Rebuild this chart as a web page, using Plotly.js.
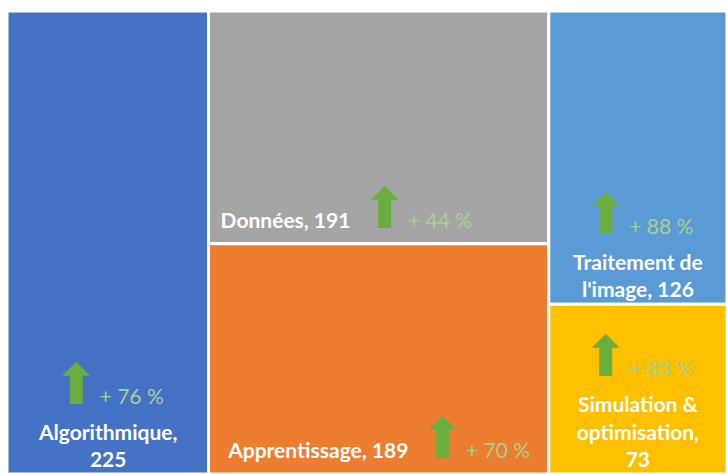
<!DOCTYPE html>
<html>
<head>
<meta charset="utf-8">
<script src="https://cdn.plot.ly/plotly-3.0.1.min.js"></script>
<style>html,body{margin:0;padding:0;background:#fff;}#chart{width:727px;height:474px;}</style>
</head>
<body>
<div id="chart"></div>
<script>
// Data
const groups = ["g1", "g2", "g3"];
const categories = ["Algorithmique", "Données", "Apprentissage", "Traitement de l'image", "Simulation & optimisation"];
const labelLines = ["Algorithmique,<br>225", "Données, 191", "Apprentissage, 189", "Traitement de<br>l'image, 126", "Simulation &<br>optimisation,<br>73"];
const values = [225, 191, 189, 126, 73];
const growth = [76, 44, 70, 88, 83];
const columnOf = ["g1", "g2", "g2", "g3", "g3"];
const colors = ["#4472C4", "#A5A5A5", "#ED7D31", "#5B9BD5", "#FFC000"];
const arrowInline = [false, true, true, false, false];

function arrowPart(g) {
  return "<span style='font-family:DejaVu Sans;font-size:56px;color:#6AAE3F'>⬆</span>" +
         "<span style='font-size:21px;color:#A9D18E'>+ " + g + " %</span>";
}
function boldLines(s) {
  return s.split("<br>").map(t => "<b>" + t + "</b>").join("<br>");
}

const ids = ["root"], parents = [""], labels = [""], vals = [], texts = [""], cols = ["#ffffff"];
let total = values.reduce((a, b) => a + b, 0);
vals.push(total);
groups.forEach(g => {
  ids.push(g); parents.push("root"); labels.push("");
  let s = 0; values.forEach((v, i) => { if (columnOf[i] === g) s += v; });
  vals.push(s); texts.push(""); cols.push("#ffffff");
});
categories.forEach((c, i) => {
  ids.push("c" + i); parents.push(columnOf[i]); labels.push(c); vals.push(values[i]);
  cols.push(colors[i]);
  let t;
  if (arrowInline[i]) {
    t = boldLines(labelLines[i]) + "  " + arrowPart(growth[i]) + (i === 1 ? "\u00A0".repeat(12) : "");
  } else {
    t = "<sup>" + arrowPart(growth[i]) + "</sup><br>" + boldLines(labelLines[i]);
  }
  texts.push(t);
});

const trace = {
  type: "treemap",
  ids: ids, parents: parents, labels: labels, values: vals, text: texts,
  branchvalues: "total",
  sort: false,
  texttemplate: "%{text}",
  textposition: "bottom center",
  textfont: {family: "Lato, 'Open Sans', sans-serif", size: 21, color: "#ffffff"},
  marker: {colors: cols, line: {color: "#ffffff", width: 3}, pad: {t: 0, l: 0, r: 0, b: 0}, depthfade: false},
  tiling: {packing: "slice-dice", pad: 0},
  pathbar: {visible: false},
  hoverinfo: "label+value"
};

Plotly.newPlot("chart", [trace], {
  width: 727, height: 474,
  margin: {l: 7, r: 0, t: 11, b: 0},
  paper_bgcolor: "#ffffff",
  showlegend: false
}, {displayModeBar: false, staticPlot: true});
</script>
</body>
</html>
